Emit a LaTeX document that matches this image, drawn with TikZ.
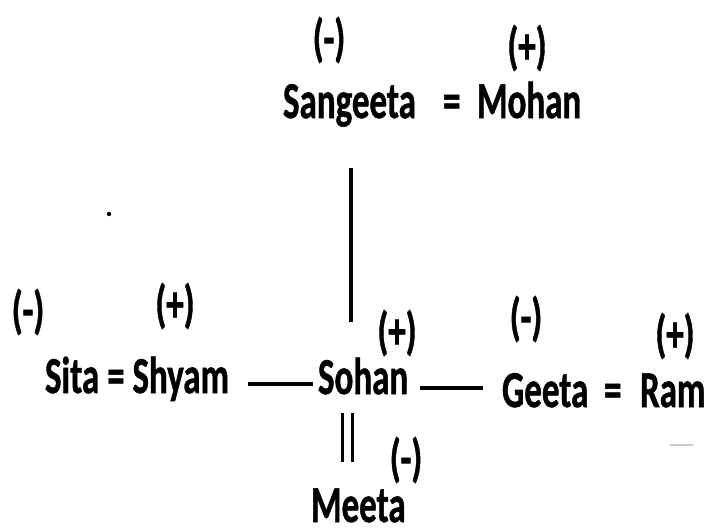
\documentclass[tikz,border=0pt]{standalone}
\usepackage{fontspec}
\setmainfont{Carlito}
\newfontfamily\heavyfont{Carlito}[UprightFont=*-Bold, FakeBold=1.2]
\newcommand{\tallbold}[1]{\scalebox{1}[1.48]{\fontsize{35}{40}\selectfont\heavyfont #1}}
\tikzset{
  word/.style={inner sep=0pt, outer sep=0pt, anchor=base west},
  sign/.style={inner sep=0pt, outer sep=0pt, anchor=center},
  link/.style={line width=4.5pt, line cap=butt},
  thinlink/.style={line width=3pt, line cap=butt},
}
\begin{document}
\begin{tikzpicture}[x=1pt,y=-1pt]
\useasboundingbox (0,0) rectangle (705,530);
% top couple
\node[sign] (s1) at (329,40) {\tallbold{(-)}};
\node[sign] (s2) at (527,48) {\tallbold{(+)}};
\node[word] (sangeeta) at (283,118) {\tallbold{Sangeeta}};
\node[word] (eq1) at (443,118) {\tallbold{=}};
\node[word] (mohan) at (477,118) {\tallbold{Mohan}};
% left couple
\node[sign] (s3) at (28,312) {\tallbold{(-)}};
\node[sign] (s4) at (175,306) {\tallbold{(+)}};
\node[word] (sita) at (45,393) {\tallbold{Sita = Shyam}};
% centre
\node[sign] (s5) at (397,333) {\tallbold{(+)}};
\node[word] (sohan) at (318,394) {\tallbold{Sohan}};
% right couple
\node[sign] (s6) at (526,319) {\tallbold{(-)}};
\node[sign] (s7) at (675,336) {\tallbold{(+)}};
\node[word] (geeta) at (502,407) {\tallbold{Geeta}};
\node[word] (eq2) at (604,407) {\tallbold{=}};
\node[word] (ram) at (640,407) {\tallbold{Ram}};
% bottom
\node[sign] (s8) at (406,460) {\tallbold{(-)}};
\node[word] (meeta) at (311,522) {\tallbold{Meeta}};
% connectors
\coordinate (vtop) at (351,168);
\coordinate (vbot) at (351,322);
\draw[line width=4pt] (vtop) -- (vbot);
\coordinate (l1) at (248,384);
\coordinate (l2) at (313,384);
\draw[link] (l1) -- (l2);
\coordinate (r1) at (420,388);
\coordinate (r2) at (483,388);
\draw[link] (r1) -- (r2);
\coordinate (d1a) at (342,413);
\coordinate (d1b) at (342,462);
\coordinate (d2a) at (352,413);
\coordinate (d2b) at (352,462);
\draw[thinlink] (d1a) -- (d1b);
\draw[thinlink] (d2a) -- (d2b);
% stray marks
\fill[black] (109,214) circle (2.2pt);
\draw[gray!40, line width=2pt] (670,445) -- (693,445);
\end{tikzpicture}
\end{document}
